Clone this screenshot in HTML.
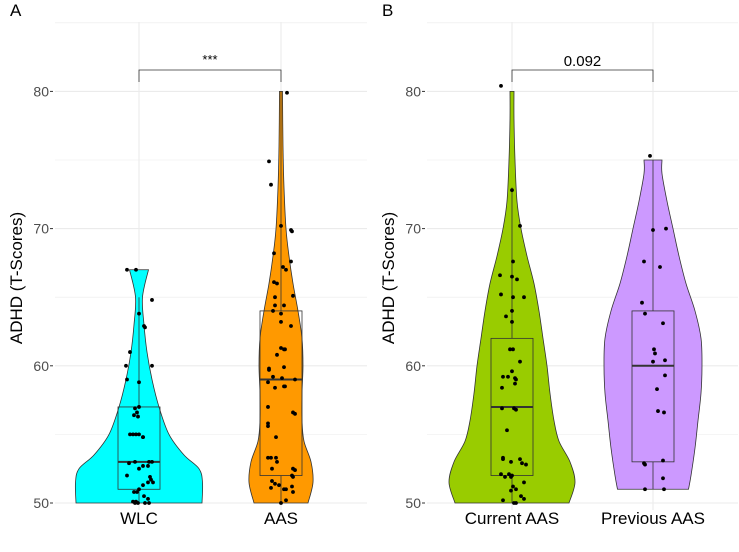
<!DOCTYPE html>
<html><head><meta charset="utf-8"><style>
body{margin:0;background:#fff;}
svg{display:block;font-family:"Liberation Sans",Arial,sans-serif;}
</style></head><body>
<svg id="c" width="739" height="552"></svg>
<script>
// ---- data ----
const panelA_groups = ["WLC","AAS"];
const panelB_groups = ["Current AAS","Previous AAS"];
const yTicks = [50,60,70,80];
const pLabels = ["***","0.092"];
const colors = ["#00FFFF","#FF9900","#99CC00","#CC99FF"];
// violin densities: value levels and half-width
const densVals = [
 [50,51.5,52.5,53.5,55,57,59,61,63,65,67],
 [50,51.5,53,54.5,56,58,60,62,64,66,68,70,73,76,80],
 [50,51.5,53,54.5,56,58,60,62,64,66,68,70,72,75,78,80],
 [51,52,54,56,58,60,62,64,66,68,70,72,74,75]
];
const densW = [
 [63,63.5,60,45,30,20,13,8,5,3.5,9.5],
 [27,32,30,23,21,21,22,21,17,12,8,5,3,2,1.5],
 [57,63,58,47,42,38,35,31,27,22,15,9,5,3,2,2],
 [35.5,38,42,45,48,49,48,42,33,26,20,14,9,9]
];
// box stats: lower whisker, q1, median, q3, upper whisker
const boxStats = [
 [50,51,53,57,65],
 [50,52,59,64,80],
 [50,52,57,62,73],
 [51,53,60,64,75]
];
const ptVals = [
 [67,67,64.8,63.8,62.9,62.8,61,60,60,59,58.8,57,56.9,56.6,56.4,56.3,55,55,55,55,54.8,54.8,52.9,53,53,53,52.7,52.7,52.5,52,51.9,51.7,51.5,51.5,51.3,51,50.8,50.8,50.5,50.3,50.1,50.1,50,50,50,50],
 [79.9,74.9,73.2,70.2,69.9,69.8,68.2,67.6,67.2,67,66.1,66,65.1,65,64.4,64.4,64,63.8,63.2,62.9,61.3,61.2,61.2,60.8,59.7,59.9,59.8,59.2,59,59.1,58.8,58.5,58.4,58.5,57,56.6,56.5,55.8,55.6,54.8,53.3,53.3,53.3,53,52.5,52.5,52.4,52,51.9,51.6,51.4,51.3,51.2,51.1,51,51,50.8,50.2,50],
 [80.4,72.8,70.2,67.6,66.6,66.5,66.3,65.2,65,65,63.6,64,63.2,61.2,61.2,60.3,59.6,59.2,59.2,59.1,59,58.7,58.4,56.9,56.9,56.8,55.3,53.3,53.2,53,53.2,52.9,52.8,52.1,52.1,52,51.9,51.9,51.5,51.2,51,50.9,50.5,50.3,50.2,50,50],
 [75.3,69.9,70,67.6,67.2,64.6,63.8,63.1,61.2,60.9,60.3,60.4,59.3,58.3,56.7,56.6,53.1,52.9,52.8,51.8,51,51]
];
const ptJit = [
 [-12,-3,13,0,5,6,-9,-13,13,-12,0,0,-4,-2,-5,-1,-9,-6,-3,0,4,4,-10,-4,10,13,4,9,0,-12,11,12,14,9,4,0,-2,-5,5,9,-6,-3,-1,6,10,-4],
 [6,-12,-10,0,10,11,-7,10,2,5,-7,-4,12,-6,-6,3,-8,0,0,10,0,4,3,-4,-12,3,-12,-8,14,1,-13,3,-6,4,-13,12,14,-13,-13,-5,-13,-10,-5,-4,-9,12,14,11,12,-9,-6,-2,11,-10,3,5,12,5,0],
 [-11,0,8,1,-12,0,5,-11,1,12,-6,0,0,-2,1,8,0,-9,-4,3,4,3,-10,-10,2,4,-5,-9,-9,-1,8,10,14,-11,-3,0,-7,-1,12,1,4,-1,9,12,-9,4,2],
 [-3,0,13,-9,7,-11,-8,10,1,2,0,12,12,4,5,11,10,-9,-8,10,-8,11]
];
// ---- layout ----
const svg=document.getElementById('c');
const NS="http://www.w3.org/2000/svg";
function mk(t,a,p){const e=document.createElementNS(NS,t);for(const k in a)e.setAttribute(k,a[k]);(p||svg).appendChild(e);return e;}
const y=v=>503-(v-50)*13.72;
function smooth(pts){ // catmull-rom through pts, returns segment string (without initial M)
 let s='';
 for(let i=0;i<pts.length-1;i++){
  const p0=pts[Math.max(0,i-1)],p1=pts[i],p2=pts[i+1],p3=pts[Math.min(pts.length-1,i+2)];
  const c1=[p1[0]+(p2[0]-p0[0])/6,p1[1]+(p2[1]-p0[1])/6];
  const c2=[p2[0]-(p3[0]-p1[0])/6,p2[1]-(p3[1]-p1[1])/6];
  s+=` C${c1[0]},${c1[1]} ${c2[0]},${c2[1]} ${p2[0]},${p2[1]}`;
 }
 return s;
}
const panels=[
 {x0:55,x1:367,cx:[139,281],groups:panelA_groups,idx:[0,1],title:"A",tx:10,lx:53,ax:22},
 {x0:427,x1:738,cx:[512,653],groups:panelB_groups,idx:[2,3],title:"B",tx:382,lx:425,ax:394}
];
panels.forEach((P,pi)=>{
 const g=mk('g',{});
 
 
 for(let v=45;v<=85;v+=5){const yy=y(v);if(yy<22||yy>510)continue;
  const l=mk('line',{x1:P.x0,x2:P.x1,y1:yy,y2:yy,stroke:'#ebebeb','stroke-width':v%10==0?1.1:0.55},g);
  }
 P.cx.forEach(cx=>{const l=mk('line',{x1:cx,x2:cx,y1:22,y2:510,stroke:'#ebebeb','stroke-width':1.1},g);
  });
 yTicks.forEach(v=>{const t=mk('text',{x:P.lx-4,y:y(v)+5,'text-anchor':'end','font-size':14,fill:'#4d4d4d'},g);t.textContent=v;
  
  const tk=mk('line',{x1:P.lx-3,x2:P.lx,y1:y(v),y2:y(v),stroke:'#333'},g);
  });
 const at=mk('text',{x:P.ax,y:278,'text-anchor':'middle','font-size':17,fill:'#000',transform:`rotate(-90 ${P.ax} 278)`},g);
 at.textContent="ADHD (T-Scores)";
 const tt=mk('text',{x:P.tx,y:16,'font-size':17,fill:'#000'},g);tt.textContent=P.title;
 
 P.idx.forEach((gi,k)=>{
  const cx=P.cx[k];
  const vs=densVals[gi],ws=densW[gi];
  const left=vs.map((v,i)=>[cx-ws[i],y(v)]);
  const right=vs.map((v,i)=>[cx+ws[i],y(v)]).reverse();
  let d='M'+left[0][0]+','+left[0][1]+smooth(left)+' L'+right[0][0]+','+right[0][1]+smooth(right)+'Z';
  const vp=mk('path',{d:d,fill:colors[gi],stroke:'#333','stroke-width':0.8},g);
  
  
  const b=boxStats[gi];
  const w1=mk('line',{x1:cx,x2:cx,y1:y(b[0]),y2:y(b[1]),stroke:'#333','stroke-width':0.8},g);
  
  const w2=mk('line',{x1:cx,x2:cx,y1:y(b[3]),y2:y(b[4]),stroke:'#333','stroke-width':0.8},g);
  
  const r=mk('rect',{x:cx-21,y:y(b[3]),width:42,height:y(b[1])-y(b[3]),fill:'none',stroke:'#333','stroke-width':0.8},g);
  
  const m=mk('line',{x1:cx-21,x2:cx+21,y1:y(b[2]),y2:y(b[2]),stroke:'#333','stroke-width':2},g);
  
  ptVals[gi].forEach((v,i)=>{const c=mk('circle',{cx:cx+ptJit[gi][i],cy:y(v),r:1.9,fill:'#000'},g);
   });
  const xl=mk('text',{x:cx,y:524,'text-anchor':'middle','font-size':17,fill:'#000'},g);xl.textContent=P.groups[k];
  
 });
 const br=mk('path',{d:`M${P.cx[0]},82 V70 H${P.cx[1]} V82`,fill:'none',stroke:'#333','stroke-width':0.8},g);
 
 const pl=mk('text',{x:(P.cx[0]+P.cx[1])/2,y:pi==0?64:66,'text-anchor':'middle','font-size':pi==0?13:15,fill:'#000'},g);
 pl.textContent=pLabels[pi];
});
</script>
</body></html>
